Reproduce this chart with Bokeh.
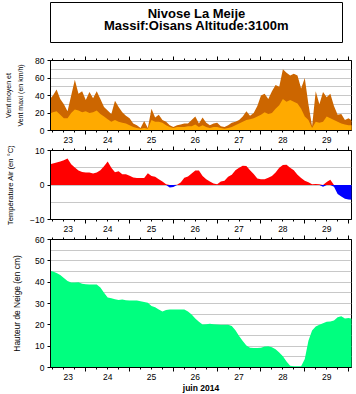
import numpy as np
import pandas as pd
from bokeh.plotting import figure
from bokeh.layouts import column
from bokeh.models import (Range1d, LinearAxis, FixedTicker, SingleIntervalTicker,
                          CustomJSTickFormatter, Label)
from bokeh.embed import file_html
from bokeh.resources import INLINE

# ---------------- data ----------------
title_line1 = "Nivose La Meije"
title_line2 = "Massif:Oisans Altitude:3100m"
month_label = "juin 2014"
wind_ylabel = "Vent moyen et\nVent maxi (en km/h)"
temp_ylabel = "Température Air (en °C)"
snow_ylabel = "Hauteur de Neige (en cm)"

series_start = "2014-06-23 04:00"
series_step = "2h"
view_start = "2014-06-23 04:40"
view_end = "2014-06-30 01:36"

wind_max = [35, 40, 47, 36, 30, 22, 40, 58, 42, 45,
            35, 44, 37, 45, 36, 27, 23, 19, 34, 27,
            21, 17, 14, 8, 6, 3, 11, 3, 25, 15,
            18, 12, 10, 6, 4, 6, 7, 8, 8, 12,
            16, 8, 15, 9, 6, 8, 9, 5, 4, 6,
            9, 10, 12, 16, 22, 17, 20, 28, 40, 42,
            36, 45, 52, 50, 70, 66, 63, 65, 63, 48,
            60, 30, 5, 45, 30, 44, 38, 42, 28, 18,
            19, 12, 14, 11]

wind_mean = [19, 21, 22, 18, 14, 14, 20, 24, 23, 21,
             22, 20, 21, 23, 19, 16, 13, 10, 12, 10,
             9, 8, 6, 4, 3, 2, 3, 2, 12, 10,
             10, 9, 6, 4, 3, 4, 4, 4, 5, 5,
             7, 4, 6, 4, 3, 4, 4, 3, 2, 3,
             4, 6, 8, 10, 12, 13, 14, 16, 18, 21,
             19, 20, 25, 29, 36, 33, 35, 33, 31, 25,
             16, 12, 3, 10, 9, 10, 16, 14, 12, 10,
             8, 7, 6, 6]

temperature = [6.0, 6.2, 6.5, 6.8, 7.2, 7.7, 6.0, 5.1, 4.2, 3.8,
               3.6, 3.6, 3.3, 3.6, 4.3, 5.4, 6.8, 5.0, 3.7, 4.0,
               3.1, 3.1, 2.7, 2.2, 2.0, 2.0, 2.0, 3.4, 2.6, 2.4,
               1.7, 1.0, 0.2, -0.7, -0.6, 0.1, 0.7, 2.1, 2.5, 3.3,
               4.2, 4.2, 2.6, 1.7, 1.0, 0.4, 0.2, 1.0, 1.2, 2.4,
               3.0, 4.3, 5.0, 5.6, 5.5, 4.3, 3.2, 1.9, 1.7, 1.7,
               2.1, 2.6, 3.6, 5.0, 5.8, 5.9, 5.0, 4.3, 3.0, 2.0,
               1.2, 0.8, 0.2, 0.3, 0.2, -0.5, 0.9, 1.5, -0.5, -2.6,
               -3.3, -4.0, -4.2, -4.3]

snow_depth = [45.5, 45, 44.3, 43.4, 42, 40.6, 39.8, 39.8, 40, 39.2,
              39, 38.9, 38.9, 38.9, 37.5, 35, 32.8, 32.5, 32, 31.6,
              31.9, 31.5, 31.4, 31.4, 31.4, 31, 30.7, 30.3, 28.8, 28.3,
              27.2, 26.3, 27, 27.2, 27.2, 27.2, 27.2, 27.2, 26.2, 24.8,
              23, 21.4, 20.2, 20.3, 20.5, 20.3, 20.1, 20, 20, 20,
              19.4, 17.5, 14.8, 12.4, 10.3, 9.3, 9.1, 9.1, 9.2, 9.8,
              10, 9.5, 8.6, 7, 5.3, 2.8, 0.8, 0.6, 0.6, 0.6,
              4, 12.5, 17.3, 19.2, 20, 20.8, 21.5, 21.6, 22, 23.5,
              24, 23, 23.2, 22.8]

times = pd.date_range(series_start, periods=len(wind_max), freq=series_step)

# ---------------- styles ----------------
FONT = "Liberation Sans"
C_MAX = "#CC6600"
C_MEAN = "#FFAA00"
C_POS = "#FF0000"
C_NEG = "#0000FF"
C_SNOW = "#00FF7F"
C_GRID = "#C8C8C8"

x0 = pd.Timestamp(view_start)
x1 = pd.Timestamp(view_end)


def to_ms(ts):
    return float(pd.Timestamp(ts).value // 10**6)


midnights = pd.date_range(x0.normalize(), x1.normalize() + pd.Timedelta("1D"), freq="D")
six_hours = pd.date_range(x0.normalize(), x1.normalize() + pd.Timedelta("1D"), freq="6h")
label_pos = []
for d in midnights:
    a = max(d, x0)
    b = min(d + pd.Timedelta("1D"), x1)
    if b - a >= pd.Timedelta("6h"):
        label_pos.append(to_ms(a + (b - a) / 2))

midnight_ms = [to_ms(d) for d in midnights]
six_ms = [to_ms(d) for d in six_hours]


def tick_axis():
    return LinearAxis(ticker=FixedTicker(ticks=midnight_ms, minor_ticks=six_ms),
                      formatter=CustomJSTickFormatter(code="return ''"),
                      major_label_text_font_size="0px", major_label_standoff=0,
                      major_tick_out=4, major_tick_in=0,
                      minor_tick_out=2, minor_tick_in=0,
                      axis_line_color="black", major_tick_line_color="black",
                      minor_tick_line_color="black")


def label_axis(standoff):
    return LinearAxis(ticker=FixedTicker(ticks=label_pos, minor_ticks=[]),
                      formatter=CustomJSTickFormatter(code="return String(new Date(tick).getUTCDate())"),
                      major_tick_out=0, major_tick_in=0, minor_tick_out=0, minor_tick_in=0,
                      axis_line_color=None, major_tick_line_color=None, minor_tick_line_color=None,
                      major_label_standoff=standoff, major_label_text_font=FONT,
                      major_label_text_font_size="8.5px", major_label_text_color="black")


def make_panel(yr, y_int, g_int, ylabel, ylabel_size, ylabel_standoff, frame_h, top, bottom, lab_standoff):
    p = figure(frame_width=301, frame_height=frame_h,
               x_range=Range1d(x0, x1), y_range=Range1d(*yr),
               x_axis_location=None, y_axis_location="left",
               output_backend="svg", toolbar_location=None,
               min_border_left=50, min_border_right=5,
               min_border_top=top, min_border_bottom=bottom,
               background_fill_color="white", border_fill_color="white")
    p.outline_line_color = "black"
    p.outline_line_alpha = 1.0
    p.xgrid.visible = False
    p.ygrid.ticker = SingleIntervalTicker(interval=g_int)
    p.ygrid.grid_line_color = C_GRID
    ax = p.yaxis[0]
    ax.ticker = SingleIntervalTicker(interval=y_int, num_minor_ticks=0)
    ax.axis_line_color = "black"
    ax.major_tick_out = 3
    ax.major_tick_in = 0
    ax.minor_tick_out = 0
    ax.minor_tick_in = 0
    ax.major_label_standoff = 3
    ax.major_label_text_font = FONT
    ax.major_label_text_font_size = "8.5px"
    ax.major_label_text_color = "black"
    ax.axis_label = ylabel
    ax.axis_label_text_font = FONT
    ax.axis_label_text_font_size = ylabel_size
    ax.axis_label_text_font_style = "normal"
    ax.axis_label_text_color = "black"
    ax.axis_label_standoff = ylabel_standoff
    p.add_layout(tick_axis(), "above")
    p.add_layout(tick_axis(), "below")
    lab = label_axis(lab_standoff)
    p.add_layout(lab, "below")
    return p, lab


# ---------------- title box ----------------
tb = figure(frame_width=292, frame_height=40, min_border_left=15, min_border_right=49,
            min_border_top=2, min_border_bottom=8,
            x_range=Range1d(0, 1), y_range=Range1d(0, 1),
            x_axis_location=None, y_axis_location=None,
            output_backend="svg", toolbar_location=None)
tb.grid.visible = False
tb.outline_line_color = "black"
tb.outline_line_alpha = 1.0
tb.add_layout(Label(x=0.5, y=0.73, text=title_line1, text_align="center", text_baseline="middle",
                    text_font=FONT, text_font_style="bold", text_font_size="13px", text_color="black"))
tb.add_layout(Label(x=0.5, y=0.42, text=title_line2, text_align="center", text_baseline="middle",
                    text_font=FONT, text_font_style="bold", text_font_size="13px", text_color="black"))

# ---------------- wind ----------------
p1, _ = make_panel((0, 80), 20, 10, wind_ylabel, "7px", 8, 70, 10, 16, 2)
p1.yaxis[0].axis_label_text_line_height = 1.7
p1.varea(x=times, y1=0, y2=wind_max, fill_color=C_MAX)
p1.varea(x=times, y1=0, y2=wind_mean, fill_color=C_MEAN)

# ---------------- temperature ----------------
temp = np.array(temperature)
p2, _ = make_panel((-10, 10), 10, 5, temp_ylabel, "7.6px", 12, 69, 4, 16, 2)
p2.varea(x=times, y1=0, y2=np.maximum(temp, 0), fill_color=C_POS)
p2.varea(x=times, y1=0, y2=np.minimum(temp, 0), fill_color=C_NEG)

# ---------------- snow ----------------
p3, lab3 = make_panel((0, 60), 10, 5, snow_ylabel, "8.4px", 10, 128, 4, 27, 2)
lab3.axis_label = month_label
lab3.axis_label_text_font = FONT
lab3.axis_label_text_font_style = "bold"
lab3.axis_label_text_font_size = "8.5px"
lab3.axis_label_text_color = "black"
lab3.axis_label_standoff = 0
p3.varea(x=times, y1=0, y2=snow_depth, fill_color=C_SNOW)

layout = column(tb, p1, p2, p3, spacing=0)
open("out.html", "w").write(file_html(layout, INLINE))
